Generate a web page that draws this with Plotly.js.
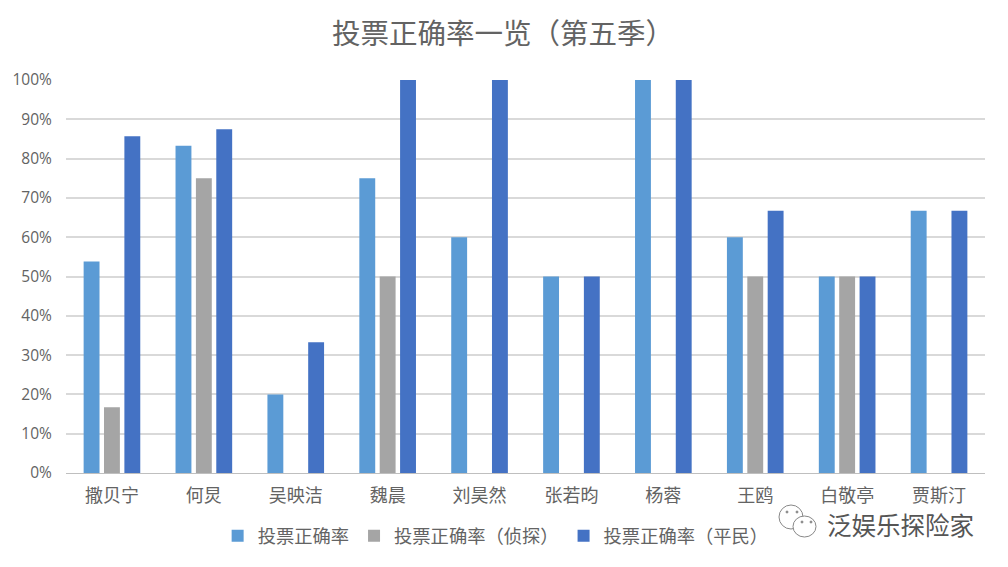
<!DOCTYPE html>
<html><head><meta charset="utf-8">
<script src="https://cdn.plot.ly/plotly-3.0.0.min.js"></script>
<style>html,body{margin:0;padding:0;background:#fff}</style></head>
<body><div id="c" style="width:1008px;height:567px"></div>
<script>
const categories=["撒贝宁","何炅","吴映洁","魏晨","刘昊然","张若昀","杨蓉","王鸥","白敬亭","贾斯汀"];
const overall=[0.538,0.833,0.20,0.75,0.60,0.50,1,0.60,0.50,0.667];
const detective=[0.167,0.75,null,0.50,null,null,null,0.50,0.50,null];
const civilian=[0.857,0.875,0.333,1,1,0.50,1,0.667,0.50,0.667];
const names=["投票正确率","投票正确率（侦探）","投票正确率（平民）"];
const colors=["#5B9BD5","#A5A5A5","#4472C4"];
const font='"Noto Sans CJK SC","Noto Sans",sans-serif';
const series=[overall,detective,civilian];
const data=series.map((y,i)=>({type:'bar',name:names[i],x:categories,y:y,marker:{color:colors[i]},hoverinfo:'none'}));
const L=66,W=919,T=80,H=393;
const px=x=>(x-L)/W, py=y=>1-(y-T)/H;
const bubble=(cx,cy,rx,ry,fill,col)=>({type:'circle',xref:'paper',yref:'paper',x0:px(cx-rx),x1:px(cx+rx),y0:py(cy+ry),y1:py(cy-ry),fillcolor:fill,line:{color:col||'#888',width:1}});
Plotly.newPlot('c',data,{
 width:1008,height:567,paper_bgcolor:'#fff',plot_bgcolor:'#fff',
 margin:{l:L,r:1008-L-W,t:T,b:567-T-H},
 title:{text:'投票正确率一览（第五季）',font:{family:font,size:28.5,color:'#636363'},x:0.499,xanchor:'center',y:0.94,yanchor:'middle'},
 bargap:0.335,bargroupgap:0.22,barmode:'group',
 xaxis:{type:'category',tickfont:{family:font,size:18,color:'#636363'},showgrid:false,linecolor:'#BFBFBF',linewidth:1,ticks:'outside',ticklen:6,tickcolor:'rgba(0,0,0,0)',showline:true},
 yaxis:{range:[0,1],dtick:0.1,tickformat:'.0%',tickfont:{family:'"Open Sans",sans-serif',size:15.5,color:'#636363'},gridcolor:'#D9D9D9',gridwidth:2,zeroline:false,ticks:'outside',ticklen:10,tickcolor:'rgba(0,0,0,0)',automargin:false},
 legend:{orientation:'h',x:0.165,y:-0.16,xanchor:'left',yanchor:'middle',font:{family:font,size:18.3,color:'#636363'},itemwidth:30,traceorder:'normal'},
 shapes:[bubble(791,517,12,12,'#fff'),bubble(804.5,526.5,11.5,10.5,'#fff'),
  bubble(787,512,1,1,'#888'),bubble(797,512,1,1,'#888'),bubble(802,522,1,1,'#888'),bubble(811,522,1,1,'#888')],
 annotations:[{text:'泛娱乐探险家',xref:'paper',yref:'paper',x:px(976),y:py(524),xanchor:'right',yanchor:'middle',showarrow:false,font:{family:font,size:24.5,color:'#555'}}]
},{displayModeBar:false});
</script></body></html>
